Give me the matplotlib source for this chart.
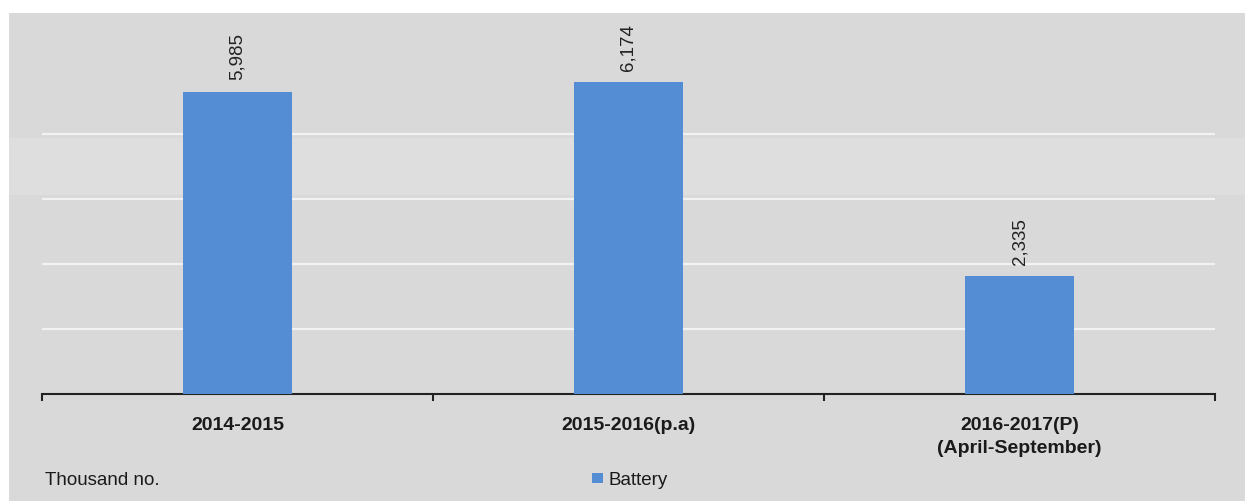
import matplotlib.pyplot as plt
from matplotlib.patches import Rectangle

# dati
categories = ['2014-2015', '2015-2016(p.a)', '2016-2017(P)\n(April-September)']
battery = [5985, 6174, 2335]
unit_label = 'Thousand no.'
series_name = 'Battery'

W, H = 1245, 502
bg = '#d9d9d9'
bar_color = '#548dd4'
grid_step = 1287  # passo della griglia

fig = plt.figure(figsize=(W / 100, H / 100), dpi=100, facecolor='white')

# sfondo grigio e banda chiara
fig.patches.append(Rectangle((9 / W, 0), 1 - 9 / W, 1 - 14 / H, transform=fig.transFigure,
                             facecolor=bg, edgecolor='none', zorder=-10))
fig.patches.append(Rectangle((9 / W, 1 - 196 / H), 1 - 9 / W, 57 / H, transform=fig.transFigure,
                             facecolor='#dedede', edgecolor='none', zorder=-9))

ax = fig.add_axes([42 / W, 107 / H, 1173 / W, 381 / H])
ax.set_facecolor('none')

x = range(len(categories))
bars = ax.bar(x, battery, width=0.278, color=bar_color, zorder=3, label=series_name)

ax.set_xlim(-0.5, len(categories) - 0.5)
ax.set_ylim(0, 381 / 0.0505)

for k in range(1, 5):
    ax.axhline(k * grid_step, color='#f2f2f2', lw=1.6, zorder=1)

for rect, v in zip(bars, battery):
    ax.annotate(f'{v:,}', (rect.get_x() + rect.get_width() / 2, rect.get_height()),
                xytext=(0, 9), textcoords='offset points', rotation=90,
                ha='center', va='bottom', fontsize=13.5, family='Liberation Sans',
                color='#222222')

for s in ['top', 'left', 'right']:
    ax.spines[s].set_visible(False)
ax.spines['bottom'].set_color('#222222')
ax.spines['bottom'].set_linewidth(1.5)
ax.set_yticks([])

ax.set_xticks(list(x))
ax.set_xticklabels(categories, fontsize=14, fontweight='bold',
                   family='Liberation Sans', color='#1a1a1a',
                   linespacing=1.45)
ax.tick_params(axis='x', which='major', length=0, pad=16)
ax.set_xticks([-0.5, 0.5, 1.5, 2.5], minor=True)
ax.tick_params(axis='x', which='minor', length=5, width=1.5, color='#222222')

fig.text(45 / W, 1 - 481 / H, unit_label, fontsize=13.5, family='Liberation Sans',
         va='center', ha='left', color='#1a1a1a')

ax.legend(loc='center', bbox_to_anchor=(630 / W, 1 - 481 / H), bbox_transform=fig.transFigure,
          frameon=False, handlelength=0.6, handleheight=0.5, handletextpad=0.3,
          prop={'family': 'Liberation Sans', 'size': 13.5}, labelcolor='#1a1a1a')

plt.savefig('out.png', dpi=100, facecolor='white')
plt.close()
